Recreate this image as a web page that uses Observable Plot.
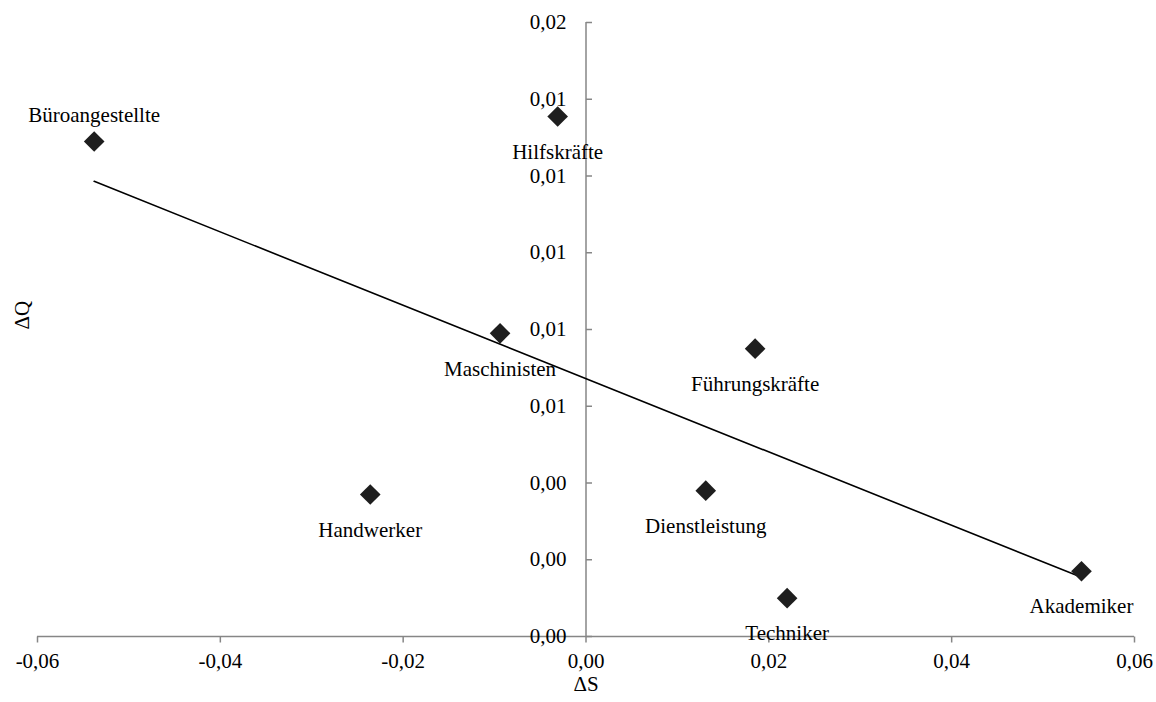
<!DOCTYPE html>
<html>
<head>
<meta charset="utf-8">
<script src="https://cdn.jsdelivr.net/npm/d3@7"></script>
<script src="https://cdn.jsdelivr.net/npm/@observablehq/plot@0.6"></script>
<style>
  html, body { margin: 0; padding: 0; background: #fff; }
  #chart svg { display: block; }
</style>
</head>
<body>
<div id="chart"></div>
<script>
// Occupational groups: change in share (ΔS) vs change in qualification (ΔQ)
const groups = ["Büroangestellte", "Hilfskräfte", "Maschinisten", "Führungskräfte", "Handwerker", "Dienstleistung", "Techniker", "Akademiker"];
const deltaS = [-0.0538, -0.0031, -0.0094, 0.0185, -0.0236, 0.0131, 0.0220, 0.0542];
const deltaQ = [0.0129, 0.01355, 0.0079, 0.0075, 0.0037, 0.0038, 0.0010, 0.0017];

const xTicks = [-0.06, -0.04, -0.02, 0, 0.02, 0.04, 0.06];
const yTicks = [0, 0.002, 0.004, 0.006, 0.008, 0.010, 0.012, 0.014, 0.016];
const labelsAbove = ["Büroangestellte"];

const data = groups.map((g, i) => ({group: g, s: deltaS[i], q: deltaQ[i]}));

const locale = d3.formatLocale({decimal: ",", thousands: ".", grouping: [3], currency: ["", " €"], minus: "-"});
const fmt = locale.format(".2f");

const AXIS = "#868686";
const FONT = "Liberation Serif, 'Times New Roman', serif";

// tick glyphs: short line segments starting at the anchor point
const tickDown = {draw(ctx) { ctx.moveTo(0, 0); ctx.lineTo(0, 6); }};
const tickRight = {draw(ctx) { ctx.moveTo(0, 0); ctx.lineTo(6, 0); }};

const chart = Plot.plot({
  width: 1156,
  height: 702,
  marginLeft: 37,
  marginRight: 22,
  marginTop: 22,
  marginBottom: 66,
  style: {fontFamily: FONT, fontSize: "21px", background: "#fff", color: "#000"},
  x: {domain: [-0.06, 0.06], axis: null},
  y: {domain: [0, 0.016], axis: null},
  marks: [
    // x axis line and ticks
    Plot.ruleY([0], {stroke: AXIS, strokeWidth: 1.5}),
    Plot.dot(xTicks, {x: d => d, y: 0, symbol: tickDown, fill: "none", stroke: AXIS, strokeWidth: 1.5}),
    // y axis line (at ΔS = 0) and ticks
    Plot.ruleX([0], {stroke: AXIS, strokeWidth: 1.5}),
    Plot.dot(yTicks, {x: 0, y: d => d, symbol: tickRight, fill: "none", stroke: AXIS, strokeWidth: 1.5}),
    // trend line
    Plot.linearRegressionY(data, {x: "s", y: "q", ci: 0, stroke: "#000", strokeWidth: 1.6}),
    // tick labels
    Plot.text(yTicks, {x: 0, y: d => d, text: d => fmt(d), textAnchor: "end", dx: -19.5, fontSize: 21, fill: "#000"}),
    Plot.text(xTicks, {x: d => d, y: 0, text: d => fmt(d), dy: 25, fontSize: 21, fill: "#000"}),
    // points
    Plot.dot(data, {x: "s", y: "q", symbol: "diamond2", r: 9.3, fill: "#1e1e1e", stroke: "none"}),
    // point labels
    Plot.text(data.filter(d => !labelsAbove.includes(d.group)), {x: "s", y: "q", text: "group", dy: 35.5, fontSize: 21, fill: "#000"}),
    Plot.text(data.filter(d => labelsAbove.includes(d.group)), {x: "s", y: "q", text: "group", dy: -26, fontSize: 21, fill: "#000"}),
    // axis titles
    Plot.text(["ΔS"], {frameAnchor: "bottom", dy: 54, fontSize: 21, fill: "#000"}),
    Plot.text(["ΔQ"], {frameAnchor: "left", dx: -15, rotate: -90, fontSize: 21, fill: "#000"})
  ]
});

document.getElementById("chart").appendChild(chart);
</script>
</body>
</html>
